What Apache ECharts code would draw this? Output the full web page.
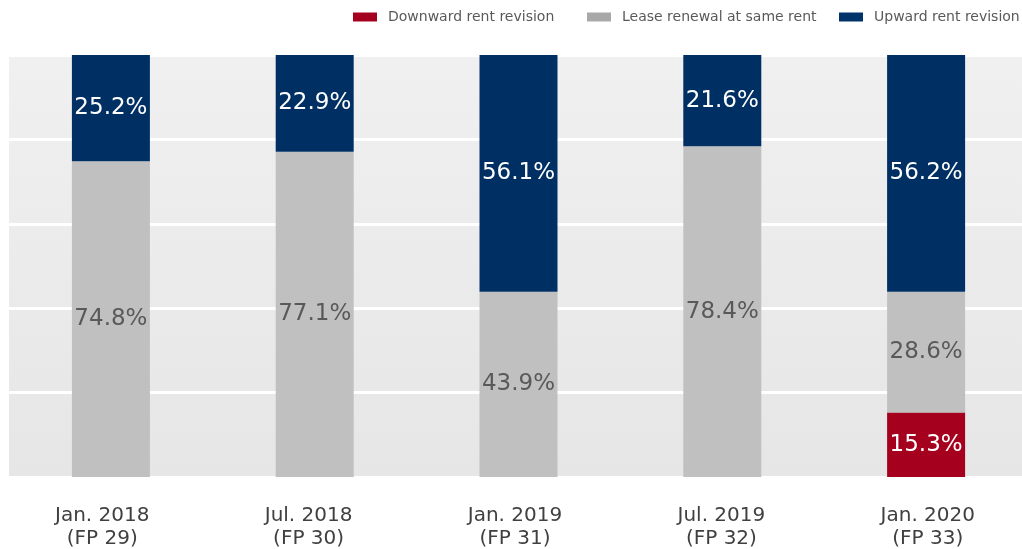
<!DOCTYPE html>
<html>
<head>
<meta charset="utf-8">
<style>
  html, body { margin: 0; padding: 0; background: #fff; }
  #chart { width: 1022px; height: 549px; }
</style>
<script src="https://cdn.jsdelivr.net/npm/echarts@6/dist/echarts.min.js"></script>
</head>
<body>
<div id="chart"></div>
<script>
var categories = ['Jan. 2018\n(FP 29)', 'Jul. 2018\n(FP 30)', 'Jan. 2019\n(FP 31)', 'Jul. 2019\n(FP 32)', 'Jan. 2020\n(FP 33)']
var seriesNames = ['Downward rent revision', 'Lease renewal at same rent', 'Upward rent revision']
var downward = [0, 0, 0, 0, 15.3]
var sameRent = [74.8, 77.1, 43.9, 78.4, 28.6]
var upward = [25.2, 22.9, 56.1, 21.6, 56.2]

var font = '"DejaVu Sans", "Noto Sans", sans-serif'
var legendColors = ['#a6001f', '#a8a8a8', '#00336a']
var legendLeft = [353, 587, 839]

var pct = function (p) {
  return p.value ? p.value.toFixed(1) + '%' : ''
}

// one legend per item so the uneven gaps of the original can be kept
var legends = seriesNames.map(function (name, i) {
  return {
    left: legendLeft[i],
    top: 10,
    padding: 0,
    icon: 'rect',
    itemWidth: 24,
    itemHeight: 9,
    textStyle: { color: '#595959', fontSize: 14, fontFamily: font, padding: [0, 0, 0, 6] },
    data: [{ name: name, itemStyle: { color: legendColors[i] } }]
  }
})

var chart = echarts.init(document.getElementById('chart'))
var option = {
  backgroundColor: '#fff',
  animation: false,
  textStyle: { fontFamily: font },
  legend: legends,
  grid: [
    {
      left: 9,
      width: 1019,
      top: 55,
      height: 422,
      outerBoundsMode: 'none',
      show: true,
      borderWidth: 0,
      backgroundColor: new echarts.graphic.LinearGradient(0, 0, 0, 1, [
        { offset: 0, color: '#f0f0f0' },
        { offset: 1, color: '#e6e6e6' }
      ])
    },
    // separate grid only for the category labels, which sit slightly off the bars
    {
      left: -1,
      width: 1032,
      top: 477,
      height: 1,
      outerBoundsMode: 'none'
    }
  ],
  xAxis: [
    {
      type: 'category',
      gridIndex: 0,
      data: categories,
      axisLine: { show: false },
      axisTick: { show: false },
      axisLabel: { show: false }
    },
    {
      type: 'category',
      gridIndex: 1,
      data: categories,
      axisLine: { show: false },
      axisTick: { show: false },
      axisLabel: {
        color: '#404040',
        fontSize: 20,
        lineHeight: 23,
        margin: 26,
        fontFamily: font
      }
    }
  ],
  yAxis: [
    {
      type: 'value',
      gridIndex: 0,
      min: 0,
      max: 100,
      interval: 20,
      axisLabel: { show: false },
      axisLine: { show: false },
      axisTick: { show: false },
      splitLine: { lineStyle: { color: '#ffffff', width: 3 } }
    },
    {
      type: 'value',
      gridIndex: 1,
      show: false,
      splitLine: { show: false }
    }
  ],
  series: [
    {
      name: seriesNames[0],
      type: 'bar',
      stack: 'all',
      barWidth: 78,
      data: downward,
      itemStyle: { color: '#a6001f' },
      label: { show: true, position: 'inside', color: '#ffffff', fontSize: 23, fontFamily: font, formatter: pct }
    },
    {
      name: seriesNames[1],
      type: 'bar',
      stack: 'all',
      barWidth: 78,
      data: sameRent,
      itemStyle: { color: '#c0c0c0' },
      label: { show: true, position: 'inside', color: '#595959', fontSize: 23, fontFamily: font, formatter: pct }
    },
    {
      name: seriesNames[2],
      type: 'bar',
      stack: 'all',
      barWidth: 78,
      data: upward,
      itemStyle: { color: '#003063' },
      label: { show: true, position: 'inside', color: '#ffffff', fontSize: 23, fontFamily: font, formatter: pct }
    }
  ]
}
chart.setOption(option)
</script>
</body>
</html>
